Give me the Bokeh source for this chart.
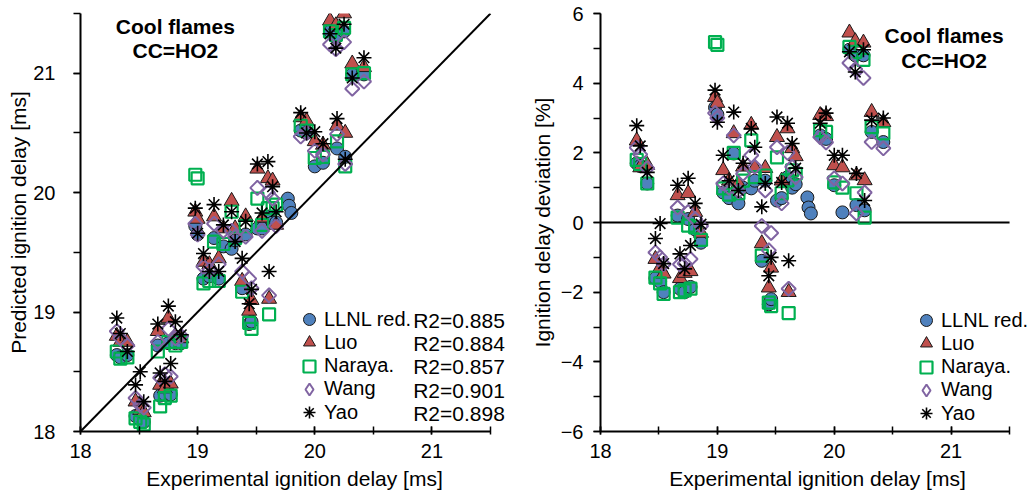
import math
from bokeh.plotting import figure
from bokeh.models import (Legend, LegendItem, Label, Slope,
                          SingleIntervalTicker, Range1d)
from bokeh.layouts import row
from bokeh.embed import file_html
from bokeh.resources import INLINE

nan = float("nan")

# Experimental ignition delay [ms] (shared x for both panels)
exp_ms = [18.31, 18.34, 18.40, 18.47, 18.51, 18.54, 18.66, 18.68, 18.72, 18.75,
          18.77, 18.81, 18.86, 18.98, 19.00, 19.05, 19.10, 19.14, 19.18, 19.22,
          19.29, 19.32, 19.41, 19.38, 19.44, 19.46, 19.61, 19.51, 19.55, 19.60,
          19.64, 19.67, 19.77, 19.78, 19.80, 19.88, 19.93, 20.00, 20.07, 20.13,
          20.18, 20.25, 20.19, 20.26, 20.32, 20.42]

# Predicted ignition delay [ms] (left panel)
pred_llnl = [18.64, 18.62, 18.64, 18.13, 18.10, 18.08, 18.72, 18.30, 18.31, 18.74,
             18.31, 18.74, 18.74, 19.72, 19.65, 19.28, 19.30, 19.62, 19.28, 19.55,
             19.53, 19.60, 19.65, 19.20, 18.90, 18.92, nan, 19.70, 19.70, 19.80,
             19.75, 19.75, 19.95, 19.89, 19.83, 20.52, 20.50, 20.22, 20.25, 21.35,
             21.30, 21.35, 20.37, 20.30, 20.99, 20.99]
pred_luo = [18.80, 18.75, 18.75, 18.25, 18.18, 18.16, 18.84, 18.39, 18.36, 18.95,
            18.40, 18.80, 18.78, 19.84, 19.78, 19.42, 19.40, 19.80, 19.45, 19.70,
            19.93, 19.70, 19.80, 19.26, 19.01, 19.10, 19.11, 20.20, 19.79, 20.12,
            20.10, 19.73, nan, nan, nan, 20.63, 20.60, 20.43, 20.40, 21.44,
            21.40, 21.50, 20.56, 20.50, 21.08, 21.05]
pred_naraya = [18.67, 18.61, 18.62, 18.11, 18.08, 18.06, 18.67, 18.21, 18.28, 18.75,
               18.30, 18.72, 18.75, 20.15, 20.12, 19.24, 19.26, 19.59, 19.26, 19.57,
               19.84, 19.62, 19.72, 19.17, 18.91, 18.86, 18.98, 19.95, 19.73, 19.87,
               19.87, 19.90, nan, nan, nan, 20.56, 20.52, 20.29, 20.30, 21.35,
               21.32, 21.38, 20.43, 20.22, 20.99, 21.00]
pred_wang = [18.84, 18.78, 18.72, 18.28, 18.22, 18.20, 18.75, 18.45, 18.48, 18.86,
             18.46, 18.78, 18.80, 19.74, 19.65, 19.38, 19.35, 19.74, 19.40, 19.68,
             19.68, 19.63, 19.63, 19.34, 19.28, 19.20, 19.14, 20.04, 19.68, 20.00,
             19.95, 19.72, nan, nan, nan, 20.47, 20.50, 20.35, 20.32, 21.24,
             21.20, 21.26, 20.49, 20.24, 20.87, 20.93]
pred_yao = [18.95, 18.82, 18.67, 18.39, 18.50, 18.25, 18.90, 18.49, 18.42, 19.05,
            18.57, 18.92, 18.81, 19.87, 19.66, 19.49, 19.34, 19.90, 19.34, 19.73,
            19.84, 19.59, 19.76, 19.45, 19.07, 19.19, 19.34, 20.24, 19.83, 20.26,
            20.05, 19.84, nan, nan, nan, 20.67, 20.50, 20.51, 20.41, 21.33,
            21.21, 21.41, 20.62, 20.28, 20.96, 21.13]

# Ignition delay deviation [%] (right panel)
dev_llnl = [1.70, 1.62, 1.12, -1.60, -1.70, -2.00, 0.20, -1.90, -2.00, 0.10,
            -1.85, -0.20, -0.58, 3.30, 3.10, 0.86, 0.70, 1.98, 0.55, 1.00,
            0.98, 1.20, 1.20, -1.10, -2.35, -2.20, nan, 0.63, 0.70, 1.30,
            1.00, 1.10, 0.72, 0.43, 0.26, 2.50, 2.40, 1.07, 0.29, 4.96,
            4.80, 4.80, 0.50, 0.35, 2.60, 2.31]
dev_luo = [2.35, 1.58, 1.65, -1.05, -1.30, -1.47, 0.78, -1.60, -1.45, 0.84,
           -1.40, 0.30, -0.30, 3.60, 3.43, 1.50, 1.20, 2.56, 1.12, 1.60,
           2.80, 1.57, 1.56, -0.60, -1.87, -1.30, -2.00, 2.45, 1.20, 2.70,
           2.13, 1.90, nan, nan, nan, 3.08, 3.05, 1.64, 1.58, 5.45,
           5.20, 5.16, 1.35, 1.21, 3.17, 2.88]
dev_naraya = [1.80, 1.68, 1.12, -1.58, -1.75, -2.05, 0.14, -2.00, -1.95, -0.09,
              -1.90, -0.14, -0.50, 5.18, 5.10, 0.98, 0.80, 2.00, 0.84, 1.20,
              2.36, 1.30, 1.35, -0.95, -2.30, -2.40, -2.60, 1.87, 0.84, 1.21,
              1.50, 1.40, nan, nan, nan, 2.65, 2.60, 1.15, 1.00, 5.04,
              4.90, 4.67, 0.84, 0.14, 2.74, 2.56]
dev_wang = [2.15, 1.95, 1.56, -0.86, -1.00, -1.20, 0.43, -1.20, -1.18, 0.30,
            -1.05, 0.10, -0.10, 3.14, 3.00, 1.12, 1.00, 2.50, 0.90, 1.40,
            1.93, 1.60, 0.92, -0.10, -0.80, -0.30, -1.90, 2.16, 0.55, 2.00,
            1.60, 1.30, nan, nan, nan, 2.45, 2.30, 1.27, 1.12, 4.58,
            4.40, 4.15, 0.26, 0.86, 2.31, 2.13]
dev_yao = [2.78, 2.20, 1.44, -0.46, -0.03, -1.18, 1.07, -0.90, -1.33, 1.27,
           -0.66, 0.55, -0.05, 3.80, 2.88, 1.93, 1.20, 3.17, 0.92, 1.70,
           2.70, 2.16, 1.12, 0.45, -1.53, -1.00, -1.10, 3.03, 1.15, 2.85,
           2.27, 1.56, nan, nan, nan, 2.85, 3.14, 1.93, 1.93, 4.90,
           4.32, 4.96, 1.41, 0.63, 2.94, 3.00]

model_names = ["LLNL red.", "Luo", "Naraya.", "Wang", "Yao"]
r2_values = [0.885, 0.884, 0.857, 0.901, 0.898]

pred_series = [pred_llnl, pred_luo, pred_naraya, pred_wang, pred_yao]
dev_series = [dev_llnl, dev_luo, dev_naraya, dev_wang, dev_yao]

FONT = "Liberation Sans"
X_LO, X_HI = 18, 21.5          # axis extent
FRAME_BOTTOM = 431             # px from top (13 top border + 418 frame)
ROW_STEP = 23.25               # legend row pitch, px

styles = [
    dict(marker="circle", size=13, fill_color="#4F81BD", line_color="#1a1a1a", line_width=1),
    dict(marker="triangle", size=15, fill_color="#C0504D", line_color="#1a1a1a", line_width=1),
    dict(marker="square", size=12, fill_color=None, line_color="#00B050", line_width=2.2),
    dict(marker="square", size=10, angle=math.pi / 4, fill_color=None, line_color="#8064A2", line_width=2),
    dict(marker="asterisk", size=15, fill_color=None, line_color="black", line_width=1.6),
]
# legend swatch style for Wang (the legend ignores marker rotation)
wang_legend_style = dict(marker="diamond", fill_color=None, line_color="#8064A2", line_width=2)


def style_axes(p, y_std, y_title_std, x_label, y_label, y_interval):
    p.xaxis.ticker = SingleIntervalTicker(interval=1, num_minor_ticks=2)
    p.yaxis.ticker = SingleIntervalTicker(interval=y_interval, num_minor_ticks=2)
    p.xgrid.visible = False
    p.ygrid.visible = False
    p.outline_line_color = None
    for ax in (p.xaxis[0], p.yaxis[0]):
        ax.axis_line_width = 2
        ax.axis_line_color = "black"
        ax.major_tick_line_color = "black"
        ax.minor_tick_line_color = "black"
        ax.major_tick_line_width = 1.5
        ax.minor_tick_line_width = 1.5
        ax.major_label_text_font = FONT
        ax.major_label_text_font_size = "20px"
        ax.major_label_text_color = "black"
        ax.axis_label_text_font = FONT
        ax.axis_label_text_font_size = "21px"
        ax.axis_label_text_font_style = "normal"
        ax.axis_label_text_color = "black"
    xa = p.xaxis[0]
    xa.bounds = (X_LO, X_HI)
    xa.major_tick_in = 5
    xa.major_tick_out = 3
    xa.minor_tick_in = 5
    xa.minor_tick_out = 3
    xa.major_label_standoff = 9
    xa.axis_label = x_label
    xa.axis_label_standoff = 6
    ya = p.yaxis[0]
    ya.major_tick_in = 0
    ya.major_tick_out = 7
    ya.minor_tick_in = 0
    ya.minor_tick_out = 7
    ya.major_label_standoff = y_std
    ya.axis_label = y_label
    ya.axis_label_standoff = y_title_std


def add_title(p, x, y1, y2):
    for yy, t in ((y1, "Cool flames"), (y2, "CC=HO2")):
        p.add_layout(Label(x=x, y=yy, text=t, text_align="center", text_baseline="middle",
                           text_font=FONT, text_font_size="21px", text_font_style="bold",
                           text_color="black"))


def add_legend(p, renderers, x_off, first_row_py):
    # one single-entry legend per model so the rows can sit closer than the glyph box
    for i, (n, r) in enumerate(zip(model_names, renderers)):
        py = first_row_py + ROW_STEP * i
        off_y = FRAME_BOTTOM - (py + 15)
        lg = Legend(items=[LegendItem(label=n, renderers=[r])], location=(x_off, off_y),
                    glyph_width=30, glyph_height=30, spacing=0, label_standoff=0,
                    padding=0, margin=0, border_line_color=None, background_fill_alpha=0,
                    label_text_font=FONT, label_text_font_size="20px",
                    label_text_color="black", label_height=20)
        p.add_layout(lg)


def draw_series(p, series):
    rs = []
    for ys, st in zip(series, styles):
        rs.append(p.scatter(x=exp_ms, y=ys, **st))
    # renderer with a single undefined point, used only as the legend swatch for Wang
    rs[3] = p.scatter(x=[nan], y=[nan], **wang_legend_style)
    return rs


# ---------- Left panel ----------
p1 = figure(frame_width=428, frame_height=418, x_range=Range1d(X_LO, X_HI + 18 / 117.0),
            y_range=Range1d(18, 21.5), output_backend="svg", toolbar_location=None,
            min_border_left=80, min_border_right=12, min_border_top=13, min_border_bottom=62)
style_axes(p1, 18, 0, "Experimental ignition delay [ms]", "Predicted ignition delay [ms]", 1)
p1.add_layout(Slope(gradient=1, y_intercept=0, line_color="black", line_width=2))
r_left = draw_series(p1, pred_series)
add_title(p1, 18.81, 21.39, 21.19)
add_legend(p1, r_left, 214, 319)
for i, v in enumerate(r2_values):
    py = 319 + ROW_STEP * i
    p1.add_layout(Label(x=20.84, y=18 + (430 - py) / 119.3, text=f"R2={v:.3f}",
                        text_align="left", text_baseline="middle", text_font=FONT,
                        text_font_size="21px", text_color="black"))

# ---------- Right panel ----------
p2 = figure(frame_width=434, frame_height=418, x_range=Range1d(X_LO, X_HI + 25 / 117.1),
            y_range=Range1d(-6, 6), output_backend="svg", toolbar_location=None,
            min_border_left=80, min_border_right=0, min_border_top=13, min_border_bottom=62)
style_axes(p2, 10, 4, "Experimental ignition delay [ms]", "Ignition delay deviation [%]", 2)
p2.segment(x0=X_LO, y0=0, x1=X_HI, y1=0, line_color="black", line_width=2)
r_right = draw_series(p2, dev_series)
add_title(p2, 20.94, 5.36, 4.64)
add_legend(p2, r_right, 311, 320)

layout = row(p1, p2)
open("out.html", "w").write(file_html(layout, INLINE))
